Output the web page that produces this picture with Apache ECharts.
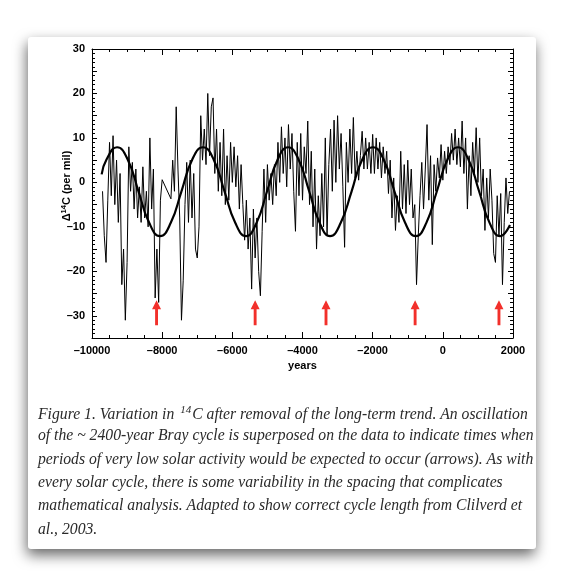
<!DOCTYPE html>
<html lang="en">
<head>
    <meta charset="UTF-8">
    <title>Bray cycle</title>
    <style>
        html, body { margin: 0; padding: 0; background: #fff; }
    </style>
</head>
<body>
<div id="main" style="width: 564px;height: 586px"></div>
<script src="https://cdn.jsdelivr.net/npm/echarts@6/dist/echarts.min.js"></script>
<script>
    // delta 14C record, one value every 50 years from -9700 to 1900 (null = gap)
    var recordStart = -9700;
    var recordStep = 50;
    var d14c = [
        -2, -12, -18, -4, 9, -3, 10.5, -5, 5, -9,
        2, -23, -15, -31, -18, 8, -2, 4.5, -6, 3,
        -8, -1, -9, 3.5, -8, -2, -10, 10, -6, 3,
        -26, -15, -27, -4, 0.6, null, null, null, null, -3.7,
        5, -2, 17, 3, -8, -31, -22, -5, 4.5, -9,
        5, -8, 2, -15, -17, -10, 15, 5, 12, 4,
        20, 6, 17, 19, 2, 12, -2, 9, -3, 12,
        -5, 6, -4, 9, 0, 8, -1, 6, -6, 4,
        -5, -13, -4, -15, -8, -24, -6, -17, -8, -20,
        -25.5, -11, 3, -9, 4, -4, 2, -5, 4, -3,
        9, 0, 12.5, 2, 10, -1, 13, 3, 11, -2,
        -11, 9, -3, 11, -4, 8, 2, 13.8, -5, 7,
        -10, 3, -15, -3, -12, 2, -10, 10, -12, 4,
        12, -2, 14, 0, 15, 3, 11, -1, -14.6, 9,
        0, 12, 2, 14.6, 1, 7, 0.5, 6, 11.5, 3,
        10, 3, 9, 2, 10.8, 2, 10, 3, 9, 1,
        8, 2, 7, -2.5, 5, -8, 1, -10.8, -3, -9,
        7, -6, 4, -7, 5, -5, 3, -8, -5, -23,
        -12, -3, 4.5, -6, 3, 13, -4, 6, -14, 4,
        -2, 5.5, 1, 8.5, 0.5, 7, 2, 8, 4, 11,
        5, 12, 4, 10, 3.5, 13.8, 2, 10, -6, 6,
        -3, 9, 2, 12.3, 0, 10, -3, 3, -10.8, 1,
        -8, 3, -4, -16, -18, -3, -12, -2.5, -23, -9, 1, -7, -2
    ];

    // superposed ~2400 year Bray oscillation
    var brayYears = [-9725, -9590, -9287, -8980, -8675, -8370, -8062, -7755, -7450, -7145,
        -6836, -6530, -6223, -5917, -5610, -5310, -5010, -4710, -4413, -4110,
        -3810, -3510, -3215, -2910, -2600, -2300, -1990, -1685, -1380, -1075,
        -772, -470, -170, 130, 433, 733, 1033, 1333, 1631, 1914];
    var brayValues = [1.8, 5.1, 7.9, 5.1, -2, -9.1, -12.1, -9.1, -2, 5.1,
        7.9, 5.1, -2, -9.1, -12.1, -9.1, -2, 5.1, 7.9, 5.1,
        -2, -9.1, -12.1, -9.1, -2, 5.1, 7.9, 5.1, -2, -9.1,
        -12.1, -9.1, -2, 5.1, 7.9, 5.1, -2, -9.1, -12.1, -9.6];

    // expected times of very low solar activity
    var arrowYears = [-8160, -5350, -3330, -790, 1600];
    var arrowLevel = -29.3;

    var yLabelValues = [-30, -20, -10, 0, 10, 20, 30];

    var captionLines = [
        '{i|Figure 1. Variation in }{s|14}{i|C after removal of the long-term trend. An oscillation}',
        '{i|of the ~ 2400-year Bray cycle is superposed on the data to indicate times when}',
        '{i|periods of very low solar activity would be expected to occur (arrows). As with}',
        '{i|every solar cycle, there is some variability in the spacing that complicates}',
        '{i|mathematical analysis. Adapted to show correct cycle length from Clilverd et}',
        '{i|al., 2003.}'
    ];

    var recordData = d14c.map(function (v, i) {
        return [recordStart + i * recordStep, v];
    });
    var brayData = brayYears.map(function (y, i) {
        return [y, brayValues[i]];
    });
    var arrowData = arrowYears.map(function (y) {
        return [y, arrowLevel];
    });

    var tickFont = {
        color: '#000',
        fontFamily: 'Liberation Sans, Arial, sans-serif',
        fontWeight: 'bold',
        fontSize: 11
    };
    function dash(v) {
        return String(v).replace('-', '\u2013');
    }

    function xAxisDef(pos) {
        return {
            type: 'value',
            position: pos,
            min: -10000,
            max: 2000,
            interval: 2000,
            axisLine: {show: true, onZero: false, lineStyle: {color: '#000', width: 1}},
            axisTick: {show: true, inside: true, length: 6, lineStyle: {color: '#000'}},
            minorTick: {show: true, splitNumber: 4, length: 3, lineStyle: {color: '#000'}},
            splitLine: {show: false},
            axisLabel: Object.assign({show: pos === 'bottom', margin: 7, formatter: dash}, tickFont),
            name: pos === 'bottom' ? 'years' : '',
            nameLocation: 'middle',
            nameGap: 22,
            nameTextStyle: tickFont
        };
    }
    function yAxisDef(pos) {
        return {
            type: 'value',
            position: pos,
            min: -35,
            max: 30,
            interval: 5,
            axisLine: {show: true, onZero: false, lineStyle: {color: '#000', width: 1}},
            axisTick: {show: true, inside: true, length: 5, lineStyle: {color: '#000'}},
            minorTick: {show: true, splitNumber: 5, length: 3, lineStyle: {color: '#000'}},
            splitLine: {show: false},
            axisLabel: Object.assign({
                show: pos === 'left',
                margin: 7,
                customValues: yLabelValues,
                formatter: function (v) {
                    return v % 10 === 0 ? dash(v) : '';
                }
            }, tickFont)
        };
    }

    var captionGraphics = captionLines.map(function (line, i) {
        return {
            type: 'text',
            left: 38,
            top: 405 + i * 23.3,
            z: 10,
            style: {
                text: line,
                fill: '#2a2a2a',
                rich: {
                    i: {fontFamily: 'Liberation Serif, serif', fontStyle: 'italic', fontSize: 15.7, lineHeight: 20, fill: '#2a2a2a'},
                    s: {fontFamily: 'Liberation Serif, serif', fontStyle: 'italic', fontSize: 11, verticalAlign: 'top', lineHeight: 20, padding: [0, 1, 0, 2], fill: '#2a2a2a'}
                }
            }
        };
    });

    var myChart = echarts.init(document.getElementById('main'));
    var option = {
        animation: false,
        backgroundColor: '#fff',
        grid: {left: 92, top: 49, width: 421, height: 289, containLabel: false},
        xAxis: [xAxisDef('bottom'), xAxisDef('top')],
        yAxis: [yAxisDef('left'), yAxisDef('right')],
        graphic: [
            {
                type: 'rect',
                shape: {x: 28, y: 37, width: 508, height: 512, r: 3},
                z: -10,
                style: {
                    fill: '#fff',
                    shadowBlur: 14,
                    shadowOffsetX: -1,
                    shadowOffsetY: 6,
                    shadowColor: 'rgba(0,0,0,0.6)'
                }
            },
            {
                type: 'text',
                x: 67,
                y: 186,
                rotation: Math.PI / 2,
                z: 10,
                style: {
                    text: '{d|\u0394}{s|14}{d|C (per mil)}',
                    align: 'center',
                    verticalAlign: 'middle',
                    rich: {
                        d: {fontFamily: 'Liberation Sans, Arial, sans-serif', fontWeight: 'bold', fontSize: 11, lineHeight: 14, fill: '#000'},
                        s: {fontFamily: 'Liberation Sans, Arial, sans-serif', fontWeight: 'bold', fontSize: 7.5, lineHeight: 14, verticalAlign: 'top', fill: '#000'}
                    }
                }
            }
        ].concat(captionGraphics),
        series: [
            {
                name: 'record',
                type: 'line',
                data: recordData,
                symbol: 'none',
                connectNulls: true,
                lineStyle: {color: '#000', width: 1},
                z: 2
            },
            {
                name: 'bray',
                type: 'line',
                data: brayData,
                symbol: 'none',
                smooth: 0.5,
                lineStyle: {color: '#000', width: 2.2},
                z: 3
            },
            {
                name: 'arrows',
                type: 'scatter',
                data: arrowData,
                symbol: 'path://M5,0 L10,9 L6.6,9 L6.6,25 L3.4,25 L3.4,9 L0,9 Z',
                symbolSize: [9, 25],
                itemStyle: {color: '#f2302b', opacity: 1},
                z: 4
            }
        ]
    };
    myChart.setOption(option);
</script>
</body>
</html>
